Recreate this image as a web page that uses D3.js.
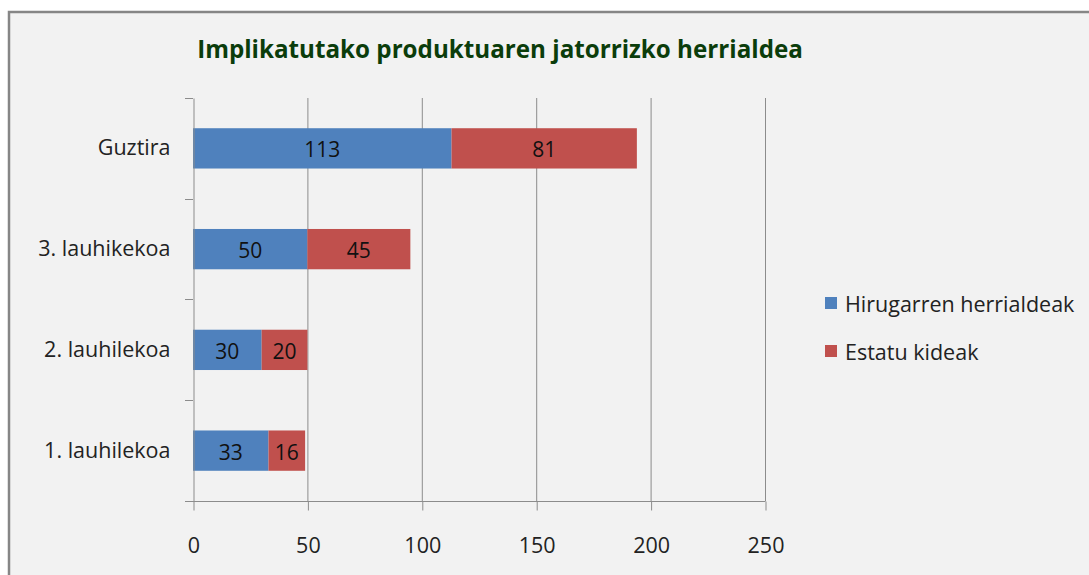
<!DOCTYPE html>
<html><head><meta charset="utf-8">
<script src="https://cdn.jsdelivr.net/npm/d3@7"></script>
<style>
html,body{margin:0;padding:0;background:#fff;}
svg{display:block;}
text{font-family:"Open Sans","Lato","DejaVu Sans",sans-serif;}
</style></head>
<body>
<svg id="c" width="1089" height="575"></svg>
<script>
const categories = ["Guztira", "3. lauhikekoa", "2. lauhilekoa", "1. lauhilekoa"];
const seriesNames = ["Hirugarren herrialdeak", "Estatu kideak"];
const hirugarren = [113, 50, 30, 33];
const estatu = [81, 45, 20, 16];
const xTicks = [0, 50, 100, 150, 200, 250];
const colors = ["#4F81BD", "#C0504D"];
const title = "Implikatutako produktuaren jatorrizko herrialdea";

const svg = d3.select("#c");
svg.append("rect").attr("x", 9).attr("y", 12).attr("width", 1100).attr("height", 600)
  .attr("fill", "#F2F2F2").attr("stroke", "#868686").attr("stroke-width", 2.5);

const x = d3.scaleLinear().domain([0, 250]).range([193, 765]);
const y = d3.scaleBand().domain(categories).range([98, 501]).paddingInner(0.6).paddingOuter(0.3);

// gridlines
svg.append("g").selectAll("line").data(xTicks.slice(1)).join("line")
  .attr("x1", d => x(d) + 0.5).attr("x2", d => x(d) + 0.5)
  .attr("y1", 98).attr("y2", 501)
  .attr("stroke", "#8C8C8C").attr("stroke-width", 1);

// bars
const data = categories.map((c, i) => ({c, v: [hirugarren[i], estatu[i]]}));
const g = svg.append("g");
data.forEach(d => {
  let acc = 0;
  d.v.forEach((v, k) => {
    g.append("rect").attr("x", x(acc)).attr("width", x(acc + v) - x(acc))
      .attr("y", y(d.c)).attr("height", y.bandwidth()).attr("fill", colors[k]);
    g.append("text").attr("x", (x(acc) + x(acc + v)) / 2).attr("y", y(d.c) + y.bandwidth() / 2 + 1)
      .attr("text-anchor", "middle").attr("dominant-baseline", "central")
      .attr("font-size", 21).attr("fill", "#111").text(v);
    acc += v;
  });
});

// left axis
const yAxis = d3.axisLeft(y).tickSize(0).tickPadding(23);
const ya = svg.append("g").attr("transform", "translate(193.5,0)").call(yAxis);
ya.select(".domain").attr("stroke", "#8C8C8C");
ya.selectAll("text").attr("font-size", 21.5).attr("fill", "#222")
  .attr("font-family", "'Open Sans','Lato',sans-serif");
// category boundary ticks
const bounds = [98, 199, 299, 400, 501];
svg.append("g").selectAll("line").data(bounds).join("line")
  .attr("x1", 185).attr("x2", 193).attr("y1", d => d + 0.5).attr("y2", d => d + 0.5)
  .attr("stroke", "#8C8C8C");

// bottom axis
const xAxis = d3.axisBottom(x).tickValues(xTicks).tickSize(9).tickPadding(27).tickFormat(d3.format("d"));
const xa = svg.append("g").attr("transform", "translate(0.5,501.5)").call(xAxis);
xa.select(".domain").attr("d", "M184.5,0H765").attr("stroke", "#8C8C8C");
xa.selectAll(".tick line").attr("stroke", "#8C8C8C");
xa.selectAll("text").attr("font-size", 21.5).attr("fill", "#222")
  .attr("font-family", "'Open Sans','Lato',sans-serif");

// title
svg.append("text").attr("x", 500).attr("y", 58).attr("text-anchor", "middle")
  .attr("font-size", 24.2).attr("font-weight", "bold").attr("fill", "#0B3D0B").text(title);

// legend
const lg = svg.append("g");
seriesNames.forEach((s, i) => {
  const yy = 303 + i * 48;
  lg.append("rect").attr("x", 825).attr("y", yy - 6).attr("width", 12).attr("height", 12).attr("fill", colors[i]);
  lg.append("text").attr("x", 845).attr("y", yy).attr("dominant-baseline", "central")
    .attr("font-size", 21.5).attr("fill", "#222").text(s);
});
</script>
</body></html>
